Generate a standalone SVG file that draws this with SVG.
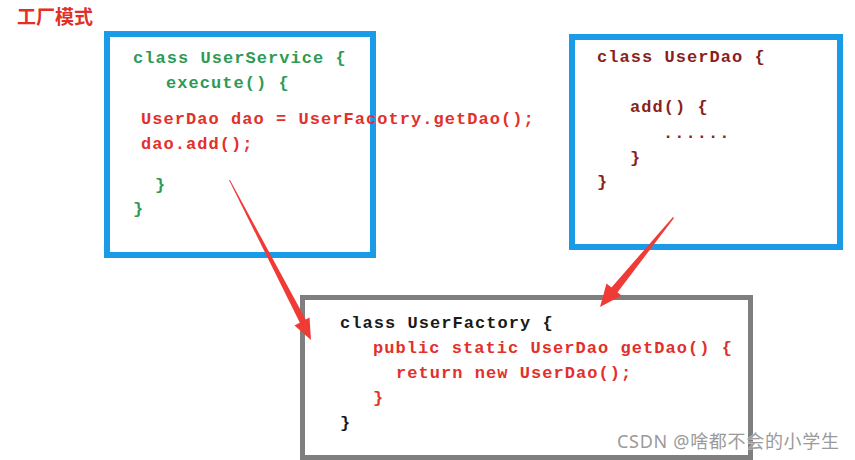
<svg xmlns="http://www.w3.org/2000/svg" width="855" height="460" viewBox="0 0 855 460">
<style>
.code{font-family:"Liberation Mono","DejaVu Sans Mono",monospace;font-size:17px;letter-spacing:1.05px;font-weight:bold}
.green{fill:#2f9a55}
.red{fill:#e2302c}
.dred{fill:#8a1f1f}
.blk{fill:#1a1a1a}
.blue{fill:none;stroke:#1a9be8;stroke-width:6}
.gray{fill:none;stroke:#7f7f7f;stroke-width:5}
.arrow{fill:#f03a36}
</style>
<rect width="855" height="460" fill="#ffffff"/>
<text x="17" y="24" font-family="'Noto Sans CJK SC',sans-serif" font-size="19" font-weight="bold" fill="#e03028">工厂模式</text>
<g id="userService">
<rect class="blue" x="107" y="34" width="266" height="221"/>
<text class="code green" x="133" y="63">class UserService {</text>
<text class="code green" x="166" y="88">execute() {</text>
<text class="code red" x="141" y="124">UserDao dao = UserFacotry.getDao();</text>
<text class="code red" x="141" y="149">dao.add();</text>
<text class="code green" x="155" y="190">}</text>
<text class="code green" x="133" y="214">}</text>
</g>
<g id="userDao">
<rect class="blue" x="572" y="37" width="268" height="210"/>
<text class="code dred" x="597" y="62">class UserDao {</text>
<text class="code dred" x="630" y="112">add() {</text>
<text class="code dred" x="663" y="138">......</text>
<text class="code dred" x="630" y="163">}</text>
<text class="code dred" x="597" y="187">}</text>
</g>
<g id="userFactory">
<rect class="gray" x="302.5" y="297.5" width="448" height="160"/>
<text class="code blk" x="340" y="328">class UserFactory {</text>
<text class="code red" x="373" y="353">public static UserDao getDao() {</text>
<text class="code red" x="396" y="378">return new UserDao();</text>
<text class="code red" x="373" y="403">}</text>
<text class="code blk" x="340" y="428">}</text>
</g>
<g id="connectors">
<polygon class="arrow" points="229,180 230,180 306,320 300,323"/>
<polygon class="arrow" points="311,340 294.5,325.5 309.5,317.5"/>
<polygon class="arrow" points="673,217 674,218 617,293 611,288"/>
<polygon class="arrow" points="600,307 606.5,283.5 621.5,295.5"/>
</g>
<text x="617" y="448" textLength="222" font-family="'Noto Sans','Noto Sans CJK SC',sans-serif" font-size="18" fill="#9a9a9a" stroke="#ffffff" stroke-width="0.5" paint-order="stroke">CSDN @啥都不会的小学生</text>
</svg>
